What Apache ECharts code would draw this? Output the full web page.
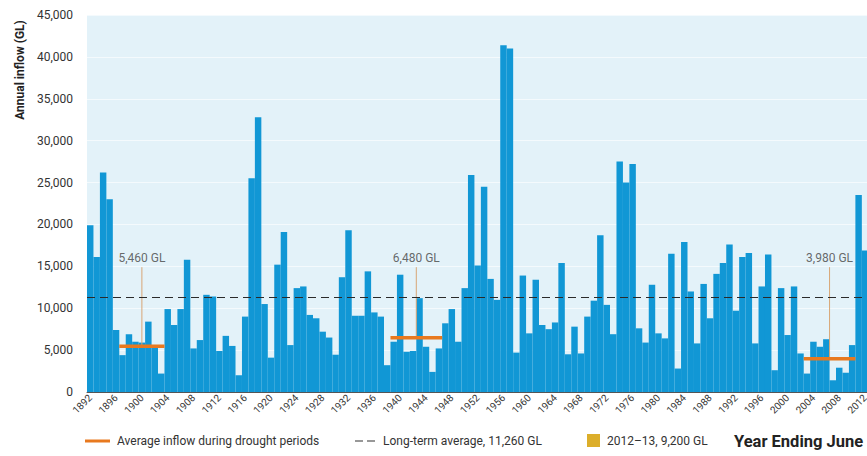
<!DOCTYPE html>
<html><head><meta charset="utf-8">
<script src="https://cdn.jsdelivr.net/npm/echarts@6/dist/echarts.min.js"></script>
<style>html,body{margin:0;padding:0;background:#fff;overflow:hidden}#c{width:885px;height:456px}</style>
</head><body><div id="c"></div>
<script>
const years = ['1892','1893','1894','1895','1896','1897','1898','1899','1900','1901','1902','1903','1904','1905','1906','1907','1908','1909','1910','1911','1912','1913','1914','1915','1916','1917','1918','1919','1920','1921','1922','1923','1924','1925','1926','1927','1928','1929','1930','1931','1932','1933','1934','1935','1936','1937','1938','1939','1940','1941','1942','1943','1944','1945','1946','1947','1948','1949','1950','1951','1952','1953','1954','1955','1956','1957','1958','1959','1960','1961','1962','1963','1964','1965','1966','1967','1968','1969','1970','1971','1972','1973','1974','1975','1976','1977','1978','1979','1980','1981','1982','1983','1984','1985','1986','1987','1988','1989','1990','1991','1992','1993','1994','1995','1996','1997','1998','1999','2000','2001','2002','2003','2004','2005','2006','2007','2008','2009','2010','2011','2012','2013'];
const inflow = [19900,16100,26200,23000,7400,4400,6900,6000,5900,8400,5400,2200,9900,8000,9900,15800,5200,6200,11600,11400,4900,6700,5500,2000,9000,25500,32800,10500,4100,15200,19100,5600,12400,12600,9200,8800,7200,6500,4450,13700,19300,9100,9100,14400,9500,9000,3200,6000,14000,4800,4900,11200,5400,2400,5200,8200,9900,6000,12400,25900,15100,24500,13500,11000,41400,41000,4700,13900,7000,13400,8000,7500,8300,15400,4500,7800,4600,9000,10900,18700,10400,6900,27500,25000,27200,7600,5900,12800,7000,6400,16500,2800,17900,12000,5800,12900,8800,14100,15400,17600,9700,16100,16600,5800,12600,16400,2600,12400,6800,12600,4600,2200,6000,5400,6300,1400,2900,2300,5600,23500,16900,9200];
const highlightYear = '2013';
const longTermAverage = 11260;
const droughtStart = ['1897','1939','2003'];
const droughtEnd = ['1903','1946','2010'];
const droughtAverage = [5460,6480,3980];
const droughtLabel = ['5,460 GL','6,480 GL','3,980 GL'];
const legendText = ['Average inflow during drought periods','Long-term average, 11,260 GL','2012\u201313, 9,200 GL'];
const axisTitle = 'Annual inflow (GL)';
const xTitle = 'Year Ending June';

const FONT = 'Roboto, "Liberation Sans", Arial, sans-serif';
const BLUE = '#1197d5', ORANGE = '#e8791f', GOLD = '#dcae2a', TXT = '#333';
const CONNECT_TOP = 14900;

const chart = echarts.init(document.getElementById('c'), null, {renderer:'svg'});
const n = years.length;
const series = [{
  type:'bar', xAxisIndex:0, yAxisIndex:0, barCategoryGap:'0%',
  data: inflow.map((v,i)=> years[i]===highlightYear ? {value:v, itemStyle:{color:GOLD}} : v),
  itemStyle:{color:BLUE},
  markLine:{silent:true, symbol:'none', label:{show:false},
    lineStyle:{color:'#2a2a2a', width:1.2, type:[8,5]},
    data:[{yAxis:longTermAverage}]},
  z:2
}];
droughtAverage.forEach((avg,k)=>{
  const s = years.indexOf(droughtStart[k]), e = years.indexOf(droughtEnd[k]);
  const mid = (s+e)/2;
  series.push({type:'line', xAxisIndex:1, yAxisIndex:0, symbol:'none', silent:true,
    lineStyle:{color:'#d8a676', width:1}, data:[[mid,avg],[mid,CONNECT_TOP]], z:4});
  series.push({type:'line', xAxisIndex:1, yAxisIndex:0, symbol:'none', silent:true,
    lineStyle:{color:ORANGE, width:3.5}, data:[[s-0.5,avg],[e+0.5,avg]], z:5});
  series.push({type:'scatter', xAxisIndex:1, yAxisIndex:0, symbolSize:0, silent:true,
    data:[[mid,CONNECT_TOP]],
    label:{show:true, position:'top', distance:3, formatter:droughtLabel[k],
      fontFamily:FONT, fontSize:12, color:'#444'}, z:6});
});

chart.setOption({
  animation:false,
  grid:{left:87, top:15, width:6.457*n, height:377, show:true, backgroundColor:'#e3f2f9', borderWidth:0},
  xAxis:[{
    type:'category', data:years, boundaryGap:true,
    axisLine:{lineStyle:{color:'#555', width:1}},
    axisTick:{interval:2, length:4, lineStyle:{color:'#555'}},
    axisLabel:{interval:3, rotate:45, fontSize:10, color:TXT, fontFamily:FONT, margin:4}
  },{
    type:'value', min:-0.5, max:n-0.5, show:false
  }],
  yAxis:{type:'value', min:0, max:45000, interval:5000,
    axisLine:{show:false}, axisTick:{show:false},
    splitLine:{lineStyle:{color:'rgba(255,255,255,0.6)', width:1}},
    axisLabel:{fontSize:12, color:TXT, fontFamily:FONT, margin:14,
      formatter:v=>v.toLocaleString('en-US')}},
  series:series,
  graphic:[
    {type:'text', x:20, y:70, rotation:Math.PI/2,
      style:{text:axisTitle, fontFamily:FONT, fontWeight:'bold', fontSize:12, fill:'#222', align:'center', verticalAlign:'middle'}},
    {type:'line', shape:{x1:85,y1:441,x2:110,y2:441}, style:{stroke:ORANGE, lineWidth:3}},
    {type:'text', x:117, y:441, style:{text:legendText[0], fontFamily:FONT, fontSize:12, fill:TXT, verticalAlign:'middle'}},
    {type:'line', shape:{x1:355,y1:441,x2:376,y2:441}, style:{stroke:'#333', lineWidth:1.2, lineDash:[8,4]}},
    {type:'text', x:383, y:441, style:{text:legendText[1], fontFamily:FONT, fontSize:12, fill:TXT, verticalAlign:'middle'}},
    {type:'rect', shape:{x:587,y:434,width:13,height:13}, style:{fill:GOLD}},
    {type:'text', x:607, y:441, style:{text:legendText[2], fontFamily:FONT, fontSize:12, fill:TXT, verticalAlign:'middle'}},
    {type:'text', x:734, y:441, style:{text:xTitle, fontFamily:FONT, fontWeight:'bold', fontSize:16.5, fill:'#222', verticalAlign:'middle'}}
  ]
});
</script></body></html>
